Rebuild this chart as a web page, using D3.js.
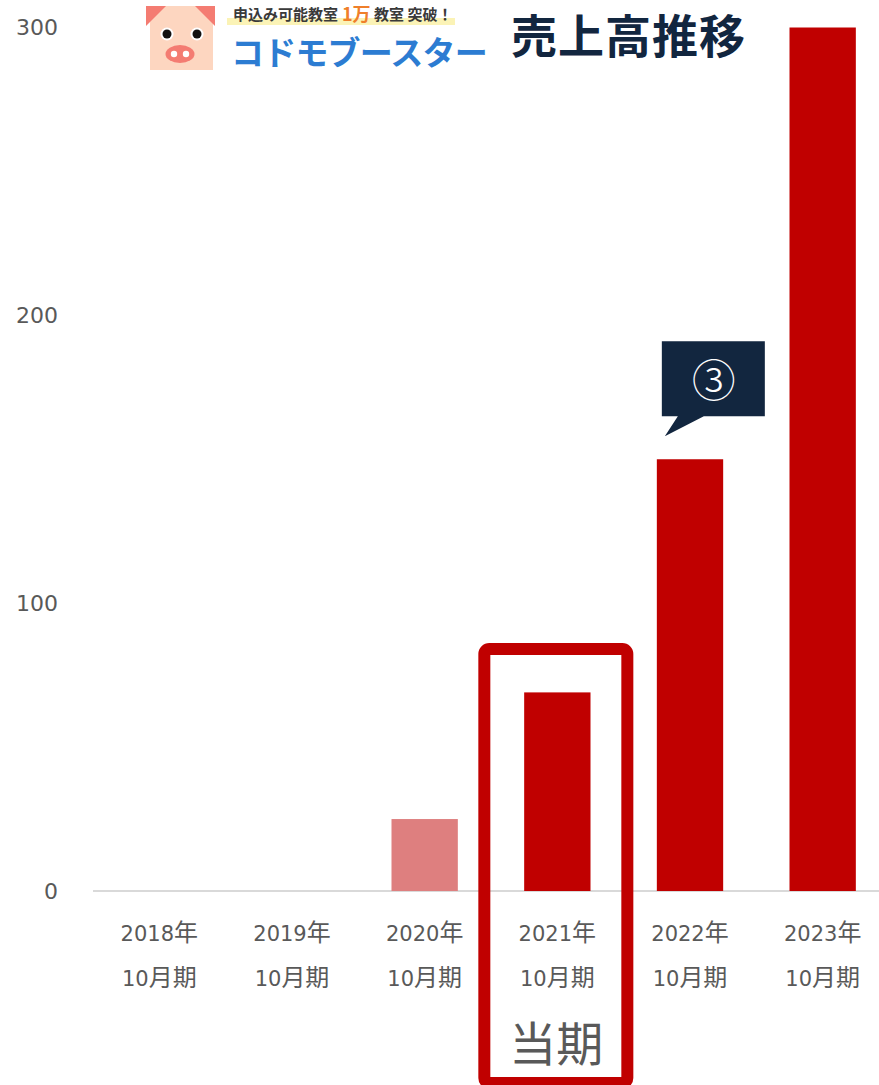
<!DOCTYPE html>
<html lang="ja">
<head>
<meta charset="utf-8">
<script src="https://cdn.jsdelivr.net/npm/d3@7/dist/d3.min.js"></script>
<style>
  html, body { margin: 0; padding: 0; background: #ffffff; }
  svg { display: block; }
  text { font-family: "Noto Sans CJK JP", "Noto Sans", sans-serif; }
</style>
</head>
<body>
<svg id="chart" width="879" height="1085"></svg>
<script>
// Fiscal periods (year line / month line) and revenue values
const years = ["2018年", "2019年", "2020年", "2021年", "2022年", "2023年"];
const periodSuffix = ["10月期", "10月期", "10月期", "10月期", "10月期", "10月期"];
const sales = [0, 0, 25, 69, 150, 300];
const barColors = ["#c00000", "#c00000", "#de7f7f", "#c00000", "#c00000", "#c00000"];
const yTicks = [0, 100, 200, 300];
const currentIndex = 3;      // 当期
const calloutIndex = 4;      // ③ marker

const svg = d3.select("#chart");
const latinFont = "'DejaVu Sans', sans-serif";
const cjkFont = "'Noto Sans CJK JP', sans-serif";

const x = d3.scaleBand()
  .domain(years)
  .range([93, 889])
  .paddingInner(0.5)
  .paddingOuter(0.25);

const y = d3.scaleLinear()
  .domain([0, 300])
  .range([891, 27.5]);

// Y axis labels only (no line)
const yAxis = d3.axisLeft(y).tickValues(yTicks).tickSize(0).tickPadding(0);
const gy = svg.append("g").attr("transform", "translate(58,0)").call(yAxis);
gy.select(".domain").remove();
gy.selectAll("text")
  .attr("fill", "#595959")
  .style("font-size", "22px")
  .style("font-family", latinFont);

// Baseline
svg.append("line")
  .attr("x1", 93).attr("x2", 879)
  .attr("y1", y(0)).attr("y2", y(0))
  .attr("stroke", "#d9d9d9").attr("stroke-width", 2);

// Bars
svg.append("g").selectAll("rect")
  .data(sales)
  .join("rect")
  .attr("x", (d, i) => x(years[i]))
  .attr("width", x.bandwidth())
  .attr("y", d => y(d))
  .attr("height", d => y(0) - y(d))
  .attr("fill", (d, i) => barColors[i]);

// Mixed-script label: digits in a Latin face, kanji slightly larger
function mixedRuns(textSel, str) {
  const runs = str.match(/[0-9A-Za-z]+|[^0-9A-Za-z]+/g) || [];
  runs.forEach(r => {
    const latin = /^[0-9A-Za-z]/.test(r);
    textSel.append("tspan")
      .style("font-family", latin ? latinFont : cjkFont)
      .style("font-size", latin ? "21px" : "24px")
      .text(r);
  });
}

// Category labels on two lines
const xAxis = d3.axisBottom(x).tickSize(0).tickPadding(0);
const gx = svg.append("g").attr("transform", `translate(0,${y(0)})`).call(xAxis);
gx.select(".domain").remove();
gx.selectAll(".tick text").remove();
gx.selectAll(".tick").each(function(d, i) {
  const g = d3.select(this);
  const t1 = g.append("text").attr("x", 0).attr("y", 50)
    .attr("text-anchor", "middle").attr("fill", "#595959");
  mixedRuns(t1, years[i]);
  const t2 = g.append("text").attr("x", 0).attr("y", 95)
    .attr("text-anchor", "middle").attr("fill", "#595959");
  mixedRuns(t2, periodSuffix[i]);
});

// Current-period frame
const cx = x(years[currentIndex]) + x.bandwidth() / 2;
svg.append("rect")
  .attr("x", cx - 73).attr("y", 649)
  .attr("width", 143).attr("height", 434)
  .attr("rx", 5)
  .attr("fill", "none")
  .attr("stroke", "#c00000")
  .attr("stroke-width", 12);
svg.append("text")
  .attr("x", cx - 1).attr("y", 1061)
  .attr("text-anchor", "middle")
  .attr("fill", "#595959")
  .style("font-size", "47px")
  .text("当期");

// Callout above the 2022 bar
const bx = x(years[calloutIndex]);
const top22 = y(sales[calloutIndex]);
const callout = svg.append("g");
callout.append("path")
  .attr("d", d3.line()([
    [bx + 5, top22 - 118], [bx + 108, top22 - 118], [bx + 108, top22 - 43],
    [bx + 47, top22 - 43], [bx + 8, top22 - 23], [bx + 21, top22 - 43],
    [bx + 5, top22 - 43]
  ]) + "Z")
  .attr("fill", "#12263f");
callout.append("text")
  .attr("x", bx + 57).attr("y", top22 - 81)
  .attr("text-anchor", "middle")
  .attr("dominant-baseline", "central")
  .attr("fill", "#ffffff")
  .style("font-size", "44px")
  .style("font-weight", "300")
  .text("③");

// Brand mark
const logo = svg.append("g");
logo.append("rect").attr("x", 150).attr("y", 6).attr("width", 63).attr("height", 64).attr("fill", "#fdd6c0");
logo.append("path").attr("d", "M146,6 L166,6 L146,26 Z").attr("fill", "#f47c72");
logo.append("path").attr("d", "M195,6 L215,6 L215,26 Z").attr("fill", "#f47c72");
[[167, 34], [197, 34]].forEach(([ex, ey]) => {
  logo.append("circle").attr("cx", ex).attr("cy", ey).attr("r", 6.5).attr("fill", "#ffffff");
  logo.append("circle").attr("cx", ex).attr("cy", ey).attr("r", 4.5).attr("fill", "#111111");
});
logo.append("ellipse").attr("cx", 180).attr("cy", 54).attr("rx", 14.5).attr("ry", 9).attr("fill", "#f47c72");
logo.append("circle").attr("cx", 174).attr("cy", 54).attr("r", 3.2).attr("fill", "#ffffff");
logo.append("circle").attr("cx", 186).attr("cy", 54).attr("r", 3.2).attr("fill", "#ffffff");

logo.append("rect").attr("x", 227).attr("y", 18).attr("width", 228).attr("height", 7).attr("fill", "#fbf3b6");
logo.append("text").attr("x", 233).attr("y", 20)
  .attr("fill", "#3a3a3a").style("font-size", "15px").style("font-weight", "700")
  .text("申込み可能教室");
logo.append("text").attr("x", 342).attr("y", 21)
  .attr("fill", "#ef7f2a").style("font-size", "18px").style("font-weight", "700")
  .text("1万");
logo.append("text").attr("x", 374).attr("y", 20)
  .attr("fill", "#3a3a3a").style("font-size", "15px").style("font-weight", "700")
  .text("教室 突破！");

logo.append("text")
  .attr("x", 231).attr("y", 65)
  .attr("fill", "#2c7cd2")
  .style("font-size", "33px")
  .style("font-weight", "700")
  .style("letter-spacing", "-0.8px")
  .text("コドモブースター");

svg.append("text")
  .attr("x", 511).attr("y", 53)
  .attr("fill", "#12263f")
  .style("font-size", "46px")
  .style("font-weight", "700")
  .style("letter-spacing", "1px")
  .text("売上高推移");
</script>
</body>
</html>
